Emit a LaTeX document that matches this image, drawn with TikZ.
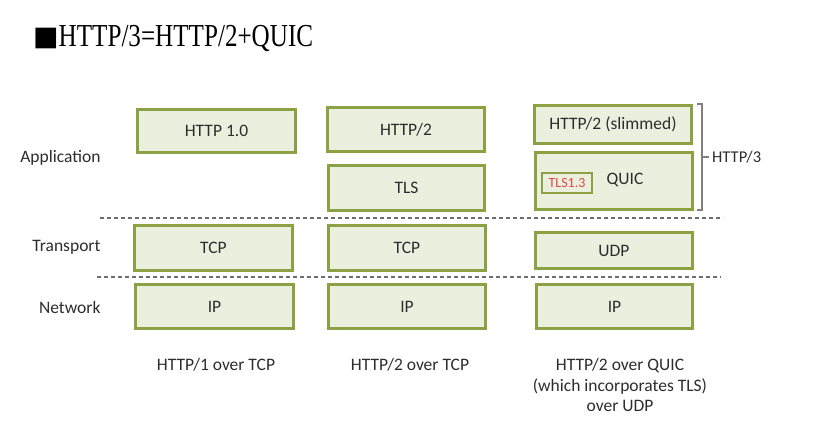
\documentclass[tikz,border=0pt]{standalone}
\usepackage{fontspec}
\setmainfont{Carlito}
\newfontfamily\titleserif{Liberation Serif}
\newfontfamily\symfont{DejaVu Sans}
\definecolor{boxfill}{RGB}{235,240,222}
\definecolor{boxline}{RGB}{140,160,68}
\definecolor{txt}{RGB}{45,45,45}
\definecolor{dashc}{RGB}{110,110,110}
\definecolor{tlsred}{RGB}{225,70,70}
\begin{document}
\begin{tikzpicture}[x=1pt,y=-1pt,
  layerbox/.style={draw=boxline, fill=boxfill, line width=2.3pt, inner sep=0pt,
    font=\fontsize{17.5}{20}\selectfont, text=txt},
  rowlabel/.style={anchor=east, font=\fontsize{17.5}{20}\selectfont, text=txt},
  caption/.style={align=center, font=\fontsize{17.5}{20.5}\selectfont, text=txt},
  sepline/.style={dashc, line width=1.4pt, dash pattern=on 4pt off 3pt},
  bracket/.style={draw=gray, line width=1.2pt}]
\useasboundingbox (0,0) rectangle (835,439);
\fill[white] (0,0) rectangle (835,439);
% title
\node[anchor=base west, inner sep=0pt, text=black] (title) at (33,46)
  {{\symfont\fontsize{27}{30}\selectfont\raisebox{1pt}{■}}\scalebox{0.785}[1]{\titleserif\fontsize{32}{36}\selectfont HTTP/3=HTTP/2+QUIC}};
% row labels
\node[rowlabel] (app) at (104,158) {Application};
\node[rowlabel] (trans) at (104,247) {Transport};
\node[rowlabel] (net) at (104,307) {Network};
% column 1
\node[layerbox, minimum width=158, minimum height=43] (http1) at (216.5,131) {HTTP 1.0};
\node[layerbox, minimum width=158, minimum height=45] (tcp1) at (213.5,248) {TCP};
\node[layerbox, minimum width=158, minimum height=44] (ip1) at (214.5,306.5) {IP};
% column 2
\node[layerbox, minimum width=157, minimum height=44] (http2) at (406,129.5) {HTTP/2};
\node[layerbox, minimum width=156, minimum height=45] (tls) at (406.5,188) {TLS};
\node[layerbox, minimum width=157, minimum height=45] (tcp2) at (407,248) {TCP};
\node[layerbox, minimum width=157, minimum height=44] (ip2) at (407,306.5) {IP};
% column 3
\node[layerbox, minimum width=157, minimum height=38] (slim) at (613,124.5) {HTTP/2 (slimmed)};
\node[layerbox, minimum width=157, minimum height=57] (quic) at (614,181) {};
\node[font=\fontsize{17.5}{20}\selectfont, text=txt] (quictxt) at (625,180) {QUIC};
\node[layerbox, line width=2pt, minimum width=50, minimum height=20,
  font=\fontsize{14}{16}\selectfont, text=tlsred] (tls13) at (567,183) {TLS1.3};
\node[layerbox, minimum width=157, minimum height=36] (udp) at (614,250.5) {UDP};
\node[layerbox, minimum width=156, minimum height=44] (ip3) at (614.5,306.5) {IP};
% separators
\coordinate (s1a) at (100,218); \coordinate (s1b) at (723,218);
\coordinate (s2a) at (97,277);  \coordinate (s2b) at (721,277);
\draw[sepline] (s1a) -- (s1b);
\draw[sepline] (s2a) -- (s2b);
% bracket
\coordinate (bt) at (697,104); \coordinate (bb) at (697,210);
\coordinate (btr) at (702,104); \coordinate (bbr) at (702,210);
\coordinate (bm) at (702,157); \coordinate (bmt) at (709,157);
\draw[bracket] (bt) -- (btr) -- (bbr) -- (bb);
\draw[bracket] (bm) -- (bmt);
\node[anchor=west, inner sep=0pt, font=\fontsize{16.5}{19}\selectfont, text=txt] (h3) at (712,157) {HTTP/3};
% captions
\node[caption, anchor=north] (c1) at (216,355) {HTTP/1 over TCP};
\node[caption, anchor=north] (c2) at (410,355) {HTTP/2 over TCP};
\node[caption, anchor=north] (c3) at (620,355) {HTTP/2 over QUIC\\(which incorporates TLS)\\over UDP};
\end{tikzpicture}
\end{document}
